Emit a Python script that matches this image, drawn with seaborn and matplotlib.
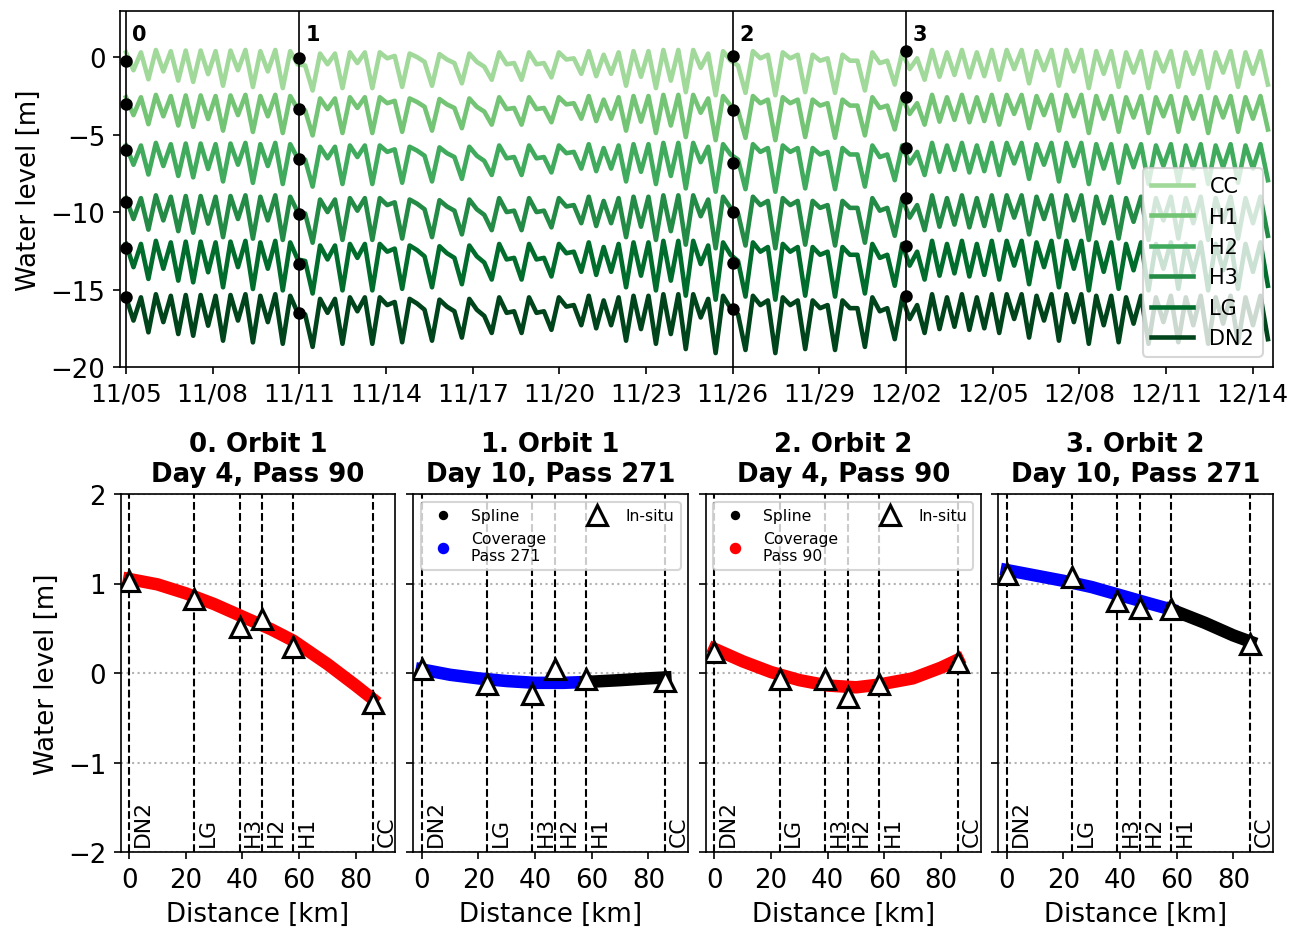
import numpy as np
import pandas as pd
import seaborn as sns
import matplotlib.pyplot as plt
from matplotlib.lines import Line2D

# ---------------- dados ----------------
stations = ['CC', 'H1', 'H2', 'H3', 'LG', 'DN2']
station_colors = ['#a1d99b', '#74c476', '#41ab5d', '#238b45', '#006d2c', '#00441b']
# nivel medio (ja com deslocamento no grafico) e fator de amplitude de cada estacao
station_level = [-0.75, -3.65, -6.85, -10.35, -13.45, -16.9]
station_scale = [0.77, 0.77, 0.83, 0.90, 1.0, 1.0]

# preamares / baixa-mares lidas em DN2 (a cada meio ciclo de mare)
tide_start = '2023-11-05 00:00'
dn2_extremes = [
    -15.5, -17.0, -15.5, -17.76, -15.3, -17.1, -15.4, -17.87, -15.35, -17.98,
    -15.35, -17.33, -15.4, -18.3, -15.35, -17.0, -15.3, -18.41, -15.4, -17.1,
    -15.3, -18.5, -15.4, -16.5, -16.6, -18.7, -15.6, -16.5, -15.6, -18.5,
    -15.5, -16.4, -15.5, -18.5, -15.5, -16.0, -15.8, -18.4, -15.6, -15.9,
    -16.3, -18.3, -15.65, -16.1, -16.4, -18.1, -15.6, -16.3, -16.7, -17.8,
    -15.5, -16.5, -16.4, -17.8, -15.5, -16.5, -16.4, -17.6, -15.5, -16.1,
    -16.0, -17.3, -15.4, -17.5, -15.7, -17.3, -15.5, -18.3, -15.4, -17.55,
    -15.4, -18.5, -15.3, -17.87, -15.3, -18.84, -15.3, -16.8, -15.6, -19.1,
    -15.4, -16.2, -16.6, -18.9, -15.4, -16.0, -15.7, -19.1, -15.5, -16.0,
    -15.7, -18.84, -15.7, -16.2, -16.0, -18.9, -15.7, -16.2, -16.2, -18.7,
    -15.5, -16.4, -16.2, -18.2, -15.5, -16.9, -16.0, -17.8, -15.3, -17.55,
    -15.5, -17.4, -15.3, -17.6, -15.5, -17.5, -15.3, -17.8, -15.3, -16.9,
    -15.3, -18.1, -15.4, -17.0, -15.3, -18.3, -15.3, -17.1, -15.3, -18.5,
    -15.4, -17.3, -15.4, -18.4, -15.5, -17.2, -15.4, -18.5, -15.5, -17.1,
    -15.4, -18.4, -15.5, -17.3, -15.4, -18.5, -15.5, -17.2, -15.4, -18.4,
    -15.5, -17.3, -15.4, -18.2,
]

# passagens do satelite e medicoes in-situ marcadas no painel superior (CC ... DN2)
event_times = ['2023-11-05 00:00', '2023-11-11 00:00', '2023-11-26 00:00', '2023-12-02 00:00']
dots_0 = [-0.24, -2.99, -5.98, -9.37, -12.34, -15.5]
dots_1 = [-0.02, -3.31, -6.54, -10.13, -13.35, -16.52]
dots_2 = [0.08, -3.40, -6.84, -9.96, -13.29, -16.26]
dots_3 = [0.41, -2.54, -5.83, -9.10, -12.17, -15.40]

# paineis inferiores
km_names = ['DN2', 'LG', 'H3', 'H2', 'H1', 'CC']
km_pos = [0, 23, 39, 47, 58, 86]
insitu_0 = [1.03, 0.83, 0.51, 0.60, 0.29, -0.33]
insitu_1 = [0.05, -0.12, -0.23, 0.04, -0.07, -0.09]
insitu_2 = [0.23, -0.07, -0.07, -0.27, -0.12, 0.12]
insitu_3 = [1.11, 1.07, 0.81, 0.73, 0.72, 0.32]

spline_km = [0, 10, 20, 30, 40, 50, 58, 70, 80, 86]
spline_0 = [1.05, 0.99, 0.89, 0.77, 0.63, 0.49, 0.36, 0.10, -0.14, -0.29]
spline_1 = [0.04, -0.02, -0.06, -0.09, -0.11, -0.11, -0.10, -0.08, -0.06, -0.05]
spline_2 = [0.27, 0.13, 0.01, -0.08, -0.14, -0.16, -0.13, -0.06, 0.06, 0.15]
spline_3 = [1.15, 1.09, 1.03, 0.96, 0.87, 0.78, 0.71, 0.56, 0.42, 0.35]

titles = ['0. Orbit 1\nDay 4, Pass 90', '1. Orbit 1\nDay 10, Pass 271',
          '2. Orbit 2\nDay 4, Pass 90', '3. Orbit 2\nDay 10, Pass 271']
coverage_color = ['red', 'blue', 'red', 'blue']
coverage_end = [86, 58, 86, 58]
coverage_pass = ['90', '271', '90', '271']

# ---------------- figura ----------------
plt.rcParams['font.family'] = ['DejaVu Sans']
plt.rcParams['font.size'] = 12.5
plt.rcParams['xtick.labelsize'] = 12
plt.rcParams['ytick.labelsize'] = 12.5

fig = plt.figure(figsize=(1304 / 150, 932 / 150), dpi=150)

# painel superior: series de mare
ax = fig.add_axes([120 / 1304, 1 - 368 / 932, 1153 / 1304, 356 / 932])

times = pd.date_range(tide_start, periods=len(dn2_extremes), freq='372min')
dn2 = np.array(dn2_extremes)
frames = []
for name, lvl, sc in zip(stations, station_level, station_scale):
    frames.append(pd.DataFrame({'time': times,
                                'level': lvl + sc * (dn2 - station_level[-1]),
                                'station': name}))
df_tide = pd.concat(frames, ignore_index=True)

sns.lineplot(data=df_tide, x='time', y='level', hue='station', hue_order=stations,
             palette=station_colors, estimator=None, lw=2.2, legend=False, ax=ax)

all_dots = [dots_0, dots_1, dots_2, dots_3]
for k, (t, dots) in enumerate(zip(event_times, all_dots)):
    t = pd.Timestamp(t)
    ax.axvline(t, color='k', lw=0.8, zorder=4)
    ax.plot([t] * len(dots), dots, 'o', color='k', ms=5, zorder=5)
    ax.annotate(str(k), (t, 1.5), xytext=(3, 0), textcoords='offset points',
                fontsize=10, fontweight='bold', va='center', ha='left')

ax.set_xlim(pd.Timestamp('2023-11-04 19:00'), pd.Timestamp('2023-12-14 16:50'))
ax.set_ylim(-20, 3)
ax.set_yticks([0, -5, -10, -15, -20])
ticks = pd.date_range('2023-11-05', '2023-12-14', freq='3D')
ax.set_xticks(ticks)
ax.set_xticklabels([t.strftime('%m/%d') for t in ticks])
ax.set_xlabel('')
ax.set_ylabel('Water level [m]')
handles = [Line2D([0], [0], color=c, lw=2.2) for c in station_colors]
ax.legend(handles, stations, loc='lower right', fontsize=10)

# paineis inferiores: perfis ao longo do rio
lefts = [120.7, 413.3, 706, 998.3]
all_insitu = [insitu_0, insitu_1, insitu_2, insitu_3]
all_spline = [spline_0, spline_1, spline_2, spline_3]
first = None
for i in range(4):
    b = fig.add_axes([lefts[i] / 1304, 1 - 853 / 932, 274.7 / 1304, 358 / 932], sharey=first)
    if first is None:
        first = b

    for km, name in zip(km_pos, km_names):
        b.axvline(km, color='k', ls='--', lw=1, zorder=1)
        b.text(km + 1.3, -1.93, name, rotation=90, fontsize=10.5, ha='left', va='bottom')

    km = np.array(spline_km)
    val = np.array(all_spline[i])
    cov = km <= coverage_end[i]
    sns.lineplot(x=km[cov], y=val[cov], color=coverage_color[i], lw=6, ax=b, zorder=2)
    if coverage_end[i] < km.max():
        rest = km >= coverage_end[i]
        sns.lineplot(x=km[rest], y=val[rest], color='k', lw=6, ax=b, zorder=2)

    b.plot(km_pos, all_insitu[i], '^', ms=10, mfc='white', mec='k', mew=1.5, zorder=4)

    b.set_title(titles[i], fontweight='bold', fontsize=12.5)
    b.set_xlim(-3, 94)
    b.set_ylim(-2, 2)
    b.set_xticks([0, 20, 40, 60, 80])
    b.set_yticks([-2, -1, 0, 1, 2])
    b.tick_params(axis='x', labelsize=12.5)
    b.yaxis.grid(True, ls=':', color='0.7', lw=1)
    b.set_axisbelow(True)
    b.set_xlabel('Distance [km]')
    if i == 0:
        b.set_ylabel('Water level [m]')
    else:
        b.set_ylabel('')
        b.tick_params(labelleft=False)

    if i in (1, 2):
        hnd = [Line2D([0], [0], marker='o', color='k', ls='', ms=3.5),
               Line2D([0], [0], marker='o', color=coverage_color[i], ls='', ms=4.5),
               Line2D([0], [0], marker='^', ls='', ms=10, mfc='white', mec='k', mew=1.5)]
        lab = ['Spline', f'Coverage\nPass {coverage_pass[i]}', 'In-situ']
        b.legend(hnd, lab, loc='upper center', ncol=2, fontsize=7.5, columnspacing=2.3)

fig.savefig('out.png', dpi=150)
